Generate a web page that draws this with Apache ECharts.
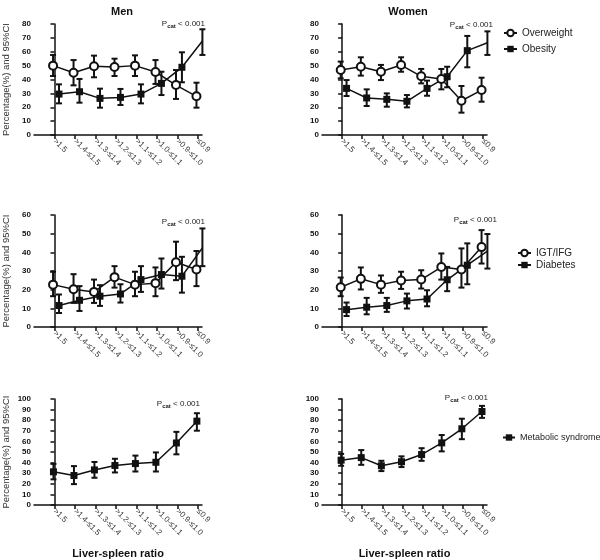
<!DOCTYPE html>
<html><head><meta charset="utf-8">
<script src="https://cdn.jsdelivr.net/npm/echarts@6/dist/echarts.min.js"></script>
<style>html,body{margin:0;padding:0;background:#fff}#c{width:600px;height:560px}</style>
</head><body><div id="c"></div>
<script>
const categories = ['>1.5','>1.4-≤1.5','>1.3-≤1.4','>1.2-≤1.3','>1.1-≤1.2','>1.0-≤1.1','>0.9-≤1.0','≤0.9'];

const menOverweight     = [50.0, 44.9, 49.5, 49.0, 50.0, 45.4, 36.0, 27.9];
const menOverweightLow  = [42.5, 35.8, 41.6, 42.5, 42.5, 36.8, 26.0, 19.7];
const menOverweightHigh = [57.7, 54.0, 57.2, 55.0, 57.4, 54.0, 46.8, 37.7];
const menObesity        = [29.5, 31.2, 26.4, 27.1, 29.5, 37.2, 48.8, 67.7];
const menObesityLow     = [22.8, 23.3, 19.7, 21.6, 22.8, 28.8, 38.0, 57.7];
const menObesityHigh    = [36.5, 40.4, 33.4, 33.2, 36.5, 45.6, 59.6, 76.2];

const womenOverweight     = [46.8, 49.2, 45.6, 50.4, 42.3, 40.4, 24.7, 32.4];
const womenOverweightLow  = [40.8, 42.8, 39.6, 45.6, 37.2, 32.9, 16.1, 24.0];
const womenOverweightHigh = [52.9, 56.0, 50.5, 56.0, 47.6, 47.6, 35.3, 41.3];
const womenObesity        = [33.6, 26.7, 25.7, 24.3, 33.6, 42.0, 60.8, 66.5];
const womenObesityLow     = [28.1, 20.9, 20.4, 19.9, 28.3, 34.4, 48.8, 57.7];
const womenObesityHigh    = [39.6, 32.9, 30.0, 28.8, 39.2, 49.2, 71.4, 74.7];

const menIgt      = [22.7, 20.2, 18.8, 26.7, 22.7, 23.5, 34.7, 30.8];
const menIgtLow   = [16.5, 12.9, 12.9, 21.1, 16.5, 16.5, 25.1, 21.9];
const menIgtHigh  = [29.6, 28.3, 25.4, 32.6, 29.6, 31.9, 45.7, 40.7];
const menDiab     = [11.5, 14.3, 16.5, 17.7, 25.4, 28.1, 27.2, 42.4];
const menDiabLow  = [7.5, 8.6, 11.3, 13.1, 18.8, 20.6, 18.4, 32.6];
const menDiabHigh = [17.4, 21.9, 22.4, 22.9, 32.6, 36.7, 37.6, 52.8];

const womenIgt      = [21.3, 25.8, 22.7, 24.9, 25.4, 32.1, 30.8, 42.8];
const womenIgtLow   = [16.5, 20.1, 18.3, 20.4, 20.6, 25.4, 21.1, 34.0];
const womenIgtHigh  = [26.5, 31.9, 27.6, 29.6, 30.4, 39.4, 42.1, 51.9];
const womenDiab     = [9.3, 10.6, 11.5, 14.0, 15.0, 25.3, 33.1, 40.7];
const womenDiabLow  = [5.9, 6.8, 8.1, 9.9, 11.1, 19.2, 22.9, 31.3];
const womenDiabHigh = [13.1, 15.6, 15.6, 17.9, 19.7, 32.2, 44.8, 49.8];

const menMets      = [31.3, 27.8, 33.1, 37.3, 39.1, 40.3, 58.5, 79.1];
const menMetsLow   = [24.2, 19.7, 25.7, 30.7, 31.6, 31.6, 47.8, 70.1];
const menMetsHigh  = [38.8, 36.7, 40.6, 43.6, 46.6, 49.6, 69.0, 86.6];
const womenMets     = [42.3, 44.7, 37.0, 40.8, 47.6, 58.6, 71.9, 88.2];
const womenMetsLow  = [37.0, 37.9, 32.0, 35.8, 41.7, 50.6, 62.1, 82.2];
const womenMetsHigh = [48.2, 51.8, 41.7, 45.9, 53.6, 66.0, 81.4, 93.5];

const yMax = [80, 60, 100];
const pText = 'P{s|cat} < 0.001';

const OFF_CIRCLE = -0.07, OFF_SQUARE = 0.22, OFF_SINGLE = -0.05;
const FONT = 'Liberation Sans, Arial, sans-serif';
const tickIdx = categories.map((c, i) => i);

const gridPos = [
  {left: 33, width: 169, top: 24, height: 111},
  {left: 322, width: 165, top: 24, height: 111},
  {left: 33, width: 169, top: 215, height: 112},
  {left: 322, width: 165, top: 215, height: 112},
  {left: 33, width: 169, top: 399, height: 112},
  {left: 322, width: 165, top: 399, height: 112}
];

const xAxes = gridPos.map((g, i) => ({
  type: 'value', gridIndex: i, min: -1, max: 7.2, interval: 1,
  splitLine: {show: false},
  axisLine: {show: true, lineStyle: {color: '#111', width: 1.5}},
  axisTick: {show: true, customValues: tickIdx, length: 4, lineStyle: {color: '#111', width: 1.5}},
  axisLabel: {customValues: tickIdx, formatter: v => categories[Math.round(v)], rotate: -45,
    fontSize: 8, color: '#333', fontFamily: FONT, margin: 5},
  name: i >= 4 ? 'Liver-spleen ratio' : '', nameLocation: 'middle', nameGap: 43,
  nameTextStyle: {fontSize: 11, fontWeight: 'bold', color: '#111', fontFamily: FONT}
}));

const yAxes = gridPos.map((g, i) => ({
  type: 'value', gridIndex: i, min: 0, max: yMax[Math.floor(i / 2)], interval: 10,
  splitLine: {show: false},
  axisLine: {show: true, lineStyle: {color: '#111', width: 1.5}},
  axisTick: {show: true, length: 4, lineStyle: {color: '#111', width: 1.5}},
  axisLabel: {fontSize: 8, fontWeight: 'bold', color: '#111', fontFamily: FONT, margin: 3},
  name: i % 2 === 0 ? 'Percentage(%) and 95%CI' : '', nameLocation: 'middle', nameGap: 23,
  nameTextStyle: {fontSize: 9.5, color: '#333', fontFamily: FONT}
}));

function pts(vals, off) { return vals.map((v, i) => [i + off, v]); }
function bars(lo, hi, off) { return lo.map((l, i) => [i + off, l, hi[i]]); }

function errRender(params, api) {
  const x = api.value(0);
  const top = api.coord([x, api.value(2)]);
  const bot = api.coord([x, api.value(1)]);
  const w = 3;
  const st = {stroke: '#111', lineWidth: 2};
  return {type: 'group', children: [
    {type: 'line', shape: {x1: top[0], y1: top[1], x2: bot[0], y2: bot[1]}, style: st},
    {type: 'line', shape: {x1: top[0] - w, y1: top[1], x2: top[0] + w, y2: top[1]}, style: st},
    {type: 'line', shape: {x1: bot[0] - w, y1: bot[1], x2: bot[0] + w, y2: bot[1]}, style: st}
  ]};
}

const series = [];
function addSeries(gi, name, vals, lo, hi, kind, off) {
  const circle = kind === 'circle';
  series.push({type: 'line', xAxisIndex: gi, yAxisIndex: gi, name: name, z: 3,
    data: pts(vals, off), symbol: circle ? 'circle' : 'rect', symbolSize: circle ? 8 : 7,
    lineStyle: {color: '#111', width: 1.5},
    itemStyle: circle ? {color: '#fff', borderColor: '#111', borderWidth: 2} : {color: '#111'},
    animation: false});
  series.push({type: 'custom', xAxisIndex: gi, yAxisIndex: gi, name: name + ' 95%CI', z: 2,
    renderItem: errRender, data: bars(lo, hi, off), silent: true, itemStyle: {color: '#111'}});
}
addSeries(0, 'Overweight', menOverweight, menOverweightLow, menOverweightHigh, 'circle', OFF_CIRCLE);
addSeries(0, 'Obesity', menObesity, menObesityLow, menObesityHigh, 'rect', OFF_SQUARE);
addSeries(1, 'Overweight', womenOverweight, womenOverweightLow, womenOverweightHigh, 'circle', OFF_CIRCLE);
addSeries(1, 'Obesity', womenObesity, womenObesityLow, womenObesityHigh, 'rect', OFF_SQUARE);
addSeries(2, 'IGT/IFG', menIgt, menIgtLow, menIgtHigh, 'circle', OFF_CIRCLE);
addSeries(2, 'Diabetes', menDiab, menDiabLow, menDiabHigh, 'rect', OFF_SQUARE);
addSeries(3, 'IGT/IFG', womenIgt, womenIgtLow, womenIgtHigh, 'circle', OFF_CIRCLE);
addSeries(3, 'Diabetes', womenDiab, womenDiabLow, womenDiabHigh, 'rect', OFF_SQUARE);
addSeries(4, 'Metabolic syndrome', menMets, menMetsLow, menMetsHigh, 'rect', OFF_SINGLE);
addSeries(5, 'Metabolic syndrome', womenMets, womenMetsLow, womenMetsHigh, 'rect', OFF_SINGLE);

const legendBase = {orient: 'vertical', itemWidth: 13, itemHeight: 8,
  textStyle: {fontSize: 10, color: '#222', fontFamily: FONT}};

const pPos = [[205, 18], [493, 19], [205, 216], [497, 214], [200, 398], [488, 392]];
const graphics = pPos.map(p => ({
  type: 'text', x: p[0], y: p[1],
  style: {text: pText, align: 'right', fill: '#222', font: '8px ' + FONT,
    rich: {s: {fontSize: 6, fontWeight: 'bold', verticalAlign: 'bottom', padding: [5, 0, 0, 0], fill: '#222', fontFamily: FONT}}}
}));

const option = {
  animation: false,
  title: [
    {text: 'Men', left: 117, top: 1, textAlign: 'center', textStyle: {fontSize: 11, fontWeight: 'bold', color: '#111', fontFamily: FONT}},
    {text: 'Women', left: 403, top: 1, textAlign: 'center', textStyle: {fontSize: 11, fontWeight: 'bold', color: '#111', fontFamily: FONT}}
  ],
  grid: gridPos,
  xAxis: xAxes,
  yAxis: yAxes,
  legend: [
    Object.assign({}, legendBase, {data: ['Overweight', 'Obesity'], left: 498, top: 23, itemGap: 6}),
    Object.assign({}, legendBase, {data: ['IGT/IFG', 'Diabetes'], left: 512, top: 243, itemGap: 2}),
    Object.assign({}, legendBase, {data: ['Metabolic syndrome'], left: 497, top: 428, itemWidth: 12,
      textStyle: {fontSize: 9, color: '#222', fontFamily: FONT}})
  ],
  graphic: graphics,
  series: series
};

const chart = echarts.init(document.getElementById('c'), null, {renderer: 'canvas'});
chart.setOption(option);
</script></body></html>
